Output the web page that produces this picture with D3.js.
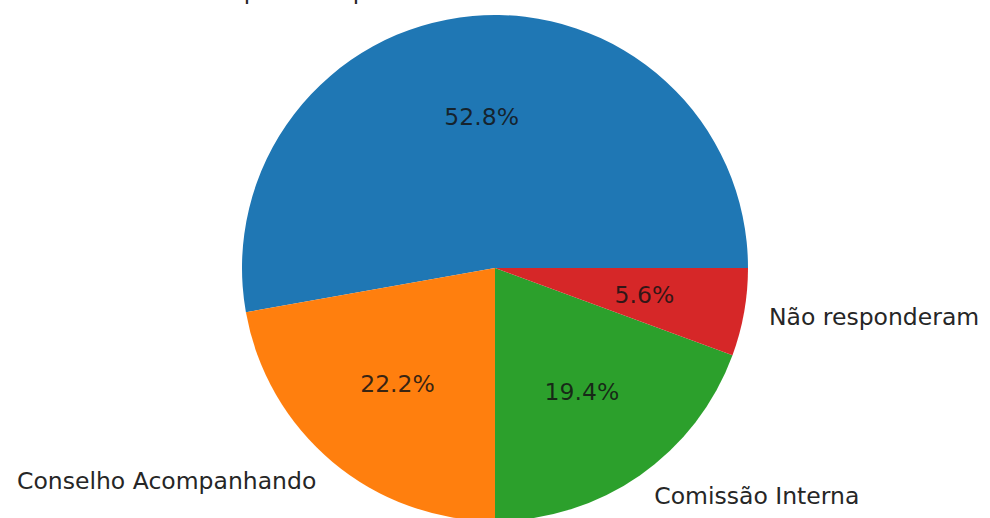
<!DOCTYPE html>
<html><head><meta charset="utf-8">
<script src="https://cdn.jsdelivr.net/npm/d3@7"></script>
<style>html,body{margin:0;padding:0;background:#fff;overflow:hidden}</style>
</head><body>
<svg id="c" width="990" height="518"></svg>
<script>
const categories = ["Secretaria Municipal Acompanhando", "Conselho Acompanhando", "Comissão Interna", "Não responderam"];
const values = [52.8, 22.2, 19.4, 5.6];
const colors = ["#1f77b4", "#ff7f0e", "#2ca02c", "#d62728"];

const cx = 495, cy = 268, r = 253;
const svg = d3.select("#c");
const g = svg.append("g").attr("transform", `translate(${cx},${cy})`);

const data = categories.map((c, i) => ({cat: c, v: values[i], col: colors[i]}));
const pie = d3.pie().value(d => d.v).sort(null)
  .startAngle(Math.PI / 2).endAngle(Math.PI / 2 - 2 * Math.PI);
const arcs = pie(data);
const arc = d3.arc().innerRadius(0).outerRadius(r);

g.selectAll("path").data(arcs).join("path")
  .attr("d", arc).attr("fill", d => d.data.col);

const fmt = d3.format(".1f");
arcs.forEach(a => {
  const mid = (a.startAngle + a.endAngle) / 2; // d3 angle, clockwise from top
  const mx = Math.sin(mid), my = -Math.cos(mid);
  g.append("text")
    .attr("x", 1.1 * r * mx).attr("y", 1.1 * r * my)
    .attr("text-anchor", mx < 0 ? "end" : "start")
    .attr("dominant-baseline", "central")
    .attr("font-family", "DejaVu Sans").attr("font-size", 23.5)
    .attr("fill", "#262626").text(a.data.cat);
  g.append("text")
    .attr("x", 0.6 * r * mx).attr("y", 0.6 * r * my)
    .attr("text-anchor", "middle")
    .attr("dominant-baseline", "central")
    .attr("font-family", "DejaVu Sans").attr("font-size", 23.5)
    .attr("fill", "#141414").attr("fill-opacity", 0.85)
    .text(fmt(a.data.v) + "%");
});
</script>
</body></html>
